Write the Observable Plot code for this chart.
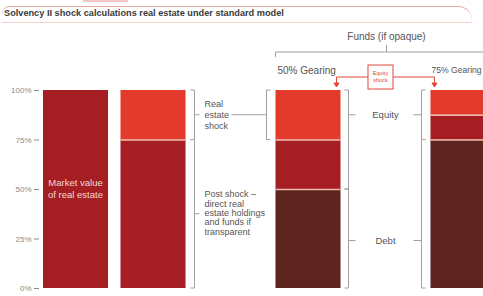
<!DOCTYPE html>
<html>
<head>
<meta charset="utf-8">
<script src="https://cdn.jsdelivr.net/npm/d3@7"></script>
<script src="https://cdn.jsdelivr.net/npm/@observablehq/plot@0.6"></script>
<style>
  html, body { margin: 0; padding: 0; background: #fff; width: 483px; height: 296px; overflow: hidden; font-family: "Liberation Sans", Arial, sans-serif; }
  #head { position: relative; height: 26px; }
  #frame { position: absolute; left: 2px; top: 6px; width: 470px; height: 15px; border-top: 1px solid #e6a59d; border-bottom: 1px solid #f4d3cf; border-radius: 8px 14px 0 0; }
  #title { position: absolute; left: 4px; top: 8px; white-space: nowrap; font-size: 9.2px; font-weight: bold; color: #3a3a3a; }
  #chip { position: absolute; left: 83px; top: 0; width: 45px; height: 2px; background: #f1c9c4; }
</style>
</head>
<body>
<div id="head"><div id="chip"></div><div id="frame"></div><div id="title"></div></div>
<div id="chart"></div>
<script>
const FONT = '"Liberation Sans", Arial, sans-serif';
const title = "Solvency II shock calculations real estate under standard model";

// columns (gap columns keep the layout's spacing)
const columns = ["Market value", "Post shock", "gap1", "50% Gearing", "gap2", "75% Gearing"];

// stacked segments, bottom to top
const segColumn = ["Market value", "Post shock", "Post shock", "50% Gearing", "50% Gearing", "50% Gearing", "75% Gearing", "75% Gearing", "75% Gearing"];
const segKind   = ["value", "value", "shock", "debt", "value", "shock", "debt", "value", "shock"];
const segShare  = [1, 0.75, 0.25, 0.5, 0.25, 0.25, 0.75, 0.125, 0.125];

const kinds = ["value", "shock", "debt"];
const kindColors = ["#a51e23", "#e33b2b", "#5d2420"];

const yTicks = [0, 0.25, 0.5, 0.75, 1];

const insideLabel = ["Market value", "of real estate"];
const shockLabel = ["Real", "estate", "shock"];
const postShockLabel = ["Post shock \u2013", "direct real", "estate holdings", "and funds if", "transparent"];
const fundsLabel = "Funds (if opaque)";
const gearingLabels = ["50% Gearing", "75% Gearing"];
const equityShockLabel = ["Equity", "shock"];
const sideLabels = ["Equity", "Debt"];
const sideLabelAt = [0.875, 0.24];

document.getElementById("title").textContent = title;

const table = segColumn.map((c, i) => ({col: c, kind: segKind[i], share: segShare[i]}));

// boundaries between stacked segments
const boundaries = [];
for (const c of columns) {
  let acc = 0;
  table.filter(d => d.col === c).forEach(d => { acc += d.share; if (acc < 0.999) boundaries.push({col: c, y: acc}); });
}

function annotate(index, scales) {
  const x = scales.x, y = scales.y;
  const bw = x.bandwidth();
  const L = c => x(c), R = c => x(c) + bw, C = c => x(c) + bw / 2;
  const g = d3.create("svg:g").attr("font-family", FONT);
  const gray = "#a0a0a0", red = "#e2463a", txt = "#555";
  const path = (d, s = gray, f = "none") => g.append("path").attr("d", d).attr("fill", f).attr("stroke", s).attr("stroke-width", 1);
  const text = (lines, x0, yc, anchor, size, fill, lh) => {
    const n = lines.length;
    lines.forEach((t, i) => g.append("text").attr("x", x0).attr("y", yc + (i - (n - 1) / 2) * lh)
      .attr("dy", "0.35em").attr("text-anchor", anchor).attr("font-size", size).attr("fill", fill).text(t));
  };
  const bracket = (bx, lo, hi, dir) => path(`M${bx + dir * 4},${y(hi)}H${bx}V${y(lo)}H${bx + dir * 4}`);

  // market value label
  text(insideLabel, C(columns[0]), y(0.5), "middle", 9.5, "#f7d8cf", 12);

  // post shock brackets
  const psR = R(columns[1]) + 9;
  bracket(psR, 0.75, 1, -1);
  bracket(psR, 0, 0.75, -1);
  path(`M${psR},${y(0.875)}h5`);
  path(`M${psR},${y(0.375)}h5`);
  text(shockLabel, psR + 10, y(0.875), "start", 9, txt, 11);
  text(postShockLabel, psR + 10, y(0.375) - 1, "start", 9, txt, 9.3);

  const g50L = L(columns[3]) - 9, g50R = R(columns[3]) + 8, g75L = L(columns[5]) - 9;
  path(`M${psR + 37},${y(0.875)}H${g50L}`);
  bracket(g50L, 0.75, 1, 1);
  bracket(g50R, 0.5, 1, -1);
  bracket(g50R, 0, 0.5, -1);
  bracket(g75L, 0.75, 1, 1);
  bracket(g75L, 0, 0.75, 1);

  const mid = C(columns[4]);
  sideLabels.forEach((s, i) => {
    const yy = y(sideLabelAt[i]);
    path(`M${g50R},${yy}h7`);
    path(`M${g75L - 8},${yy}H${g75L}`);
    text([s], mid, yy, "middle", 9.5, txt, 9);
  });

  // funds bracket
  const fy = y(1) - 38;
  path(`M${L(columns[3])},${fy + 5}V${fy}H${R(columns[5]) + 10}`);
  path(`M${mid + 1},${fy}V${fy - 7}`);
  text([fundsLabel], mid + 1, fy - 16, "middle", 10, txt, 9);

  // gearing titles
  text([gearingLabels[0]], L(columns[3]) + 2, y(1) - 20, "start", 10, txt, 9);
  text([gearingLabels[1]], L(columns[5]) + 1, y(1) - 20, "start", 8.6, txt, 9);

  // equity shock box and arrows
  const bx0 = mid - 17.5, bx1 = mid + 7.5, by = y(1) - 13;
  g.append("rect").attr("x", bx0).attr("y", y(1) - 25).attr("width", bx1 - bx0).attr("height", 24)
    .attr("fill", "#fff").attr("stroke", red).attr("stroke-width", 1);
  text(equityShockLabel, (bx0 + bx1) / 2, y(1) - 13, "middle", 5.5, red, 7);
  const a1 = R(columns[3]) - 4, a2 = L(columns[5]) + 4;
  path(`M${bx0},${by}H${a1}V${y(1) - 7}`, red);
  path(`M${bx1},${by}H${a2}V${y(1) - 7}`, red);
  path(`M${a1 - 2.5},${y(1) - 7}h5l-2.5,4z`, red, red);
  path(`M${a2 - 2.5},${y(1) - 7}h5l-2.5,4z`, red, red);
  return g.node();
}

const chart = Plot.plot({
  width: 483,
  height: 270,
  marginLeft: 39,
  marginRight: 0,
  marginTop: 0,
  marginBottom: 0,
  style: {fontFamily: FONT, fontSize: "8px", color: "#8a8a8a", background: "transparent", overflow: "hidden"},
  x: {type: "band", domain: columns, range: [43, 495.5], paddingInner: 0.161, paddingOuter: 0, align: 0, round: false, axis: null},
  y: {domain: [0, 1], range: [262, 64], ticks: yTicks, tickFormat: d3.format(".0%"), tickSize: 5, tickPadding: 3, label: null},
  color: {domain: kinds, range: kindColors},
  marks: [
    Plot.barY(table, Plot.stackY({x: "col", y: "share", fill: "kind", order: null, inset: 0})),
    Plot.tickY(boundaries, {x: "col", y: "y", stroke: "#f3b9ae", strokeWidth: 1.5}),
    annotate
  ]
});
document.getElementById("chart").appendChild(chart);
</script>
</body>
</html>
